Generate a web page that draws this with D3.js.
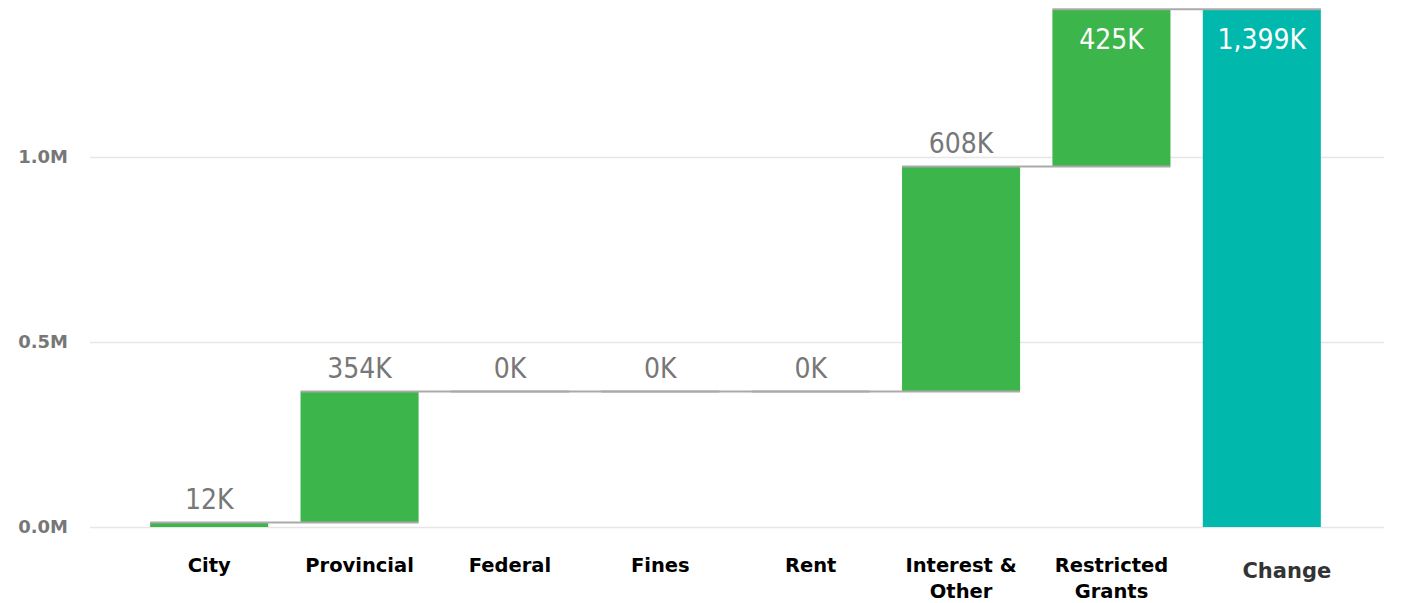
<!DOCTYPE html>
<html>
<head>
<meta charset="utf-8">
<script src="https://cdn.jsdelivr.net/npm/d3@7"></script>
<style>
  body { margin: 0; background: #fff; }
  .grid line { stroke: #e6e6e6; stroke-width: 1.5; }
  .grid text { font-family: "DejaVu Sans", sans-serif; font-weight: bold; font-size: 18px; fill: #777; }
  .val { font-family: "DejaVu Sans Condensed", "DejaVu Sans", sans-serif; font-stretch: condensed; font-size: 28px; }
  .cat { font-family: "DejaVu Sans", sans-serif; font-weight: bold; font-size: 19.5px; fill: #000; }
</style>
</head>
<body>
<div id="chart"></div>
<script>
// waterfall data (thousands)
var categories = ["City", "Provincial", "Federal", "Fines", "Rent", "Interest & Other", "Restricted Grants"];
var increments = [12, 354, 0, 0, 0, 608, 425];
var totalLabel = "Change";
var yTicks = [0, 500, 1000];

var width = 1401, height = 603;

var svg = d3.select("#chart").append("svg")
    .attr("width", width)
    .attr("height", height);

// build running totals
var rows = [];
var cum = 0;
categories.forEach(function(c, i) {
    rows.push({name: c, start: cum, end: cum + increments[i], value: increments[i], total: false});
    cum += increments[i];
});
rows.push({name: totalLabel, start: 0, end: cum, value: cum, total: true});

var x = d3.scaleBand()
    .domain(rows.map(function(d) { return d.name; }))
    .range([134, 1337])
    .paddingInner(0.215)
    .paddingOuter(0.1075);

var y = d3.scaleLinear()
    .domain([0, 1400])
    .range([527, 9]);

// gridlines + y labels
var grid = svg.append("g")
    .attr("class", "grid")
    .attr("transform", "translate(90,0)")
    .call(d3.axisLeft(y)
        .tickValues(yTicks)
        .tickSize(-1294)
        .tickPadding(22)
        .tickFormat(function(d) { return d3.format(".1f")(d / 1000) + "M"; }));
grid.select(".domain").remove();

var fmt = d3.format(",");

// bars
svg.selectAll(".bar")
    .data(rows)
    .enter().append("rect")
    .attr("class", "bar")
    .attr("x", function(d) { return x(d.name); })
    .attr("y", function(d) { return y(Math.max(d.start, d.end)); })
    .attr("width", x.bandwidth())
    .attr("height", function(d) { return Math.abs(y(d.start) - y(d.end)); })
    .attr("fill", function(d) { return d.total ? "#00b8ac" : "#3cb54a"; });

// connector lines
svg.selectAll(".conn")
    .data(rows.slice(0, -1))
    .enter().append("line")
    .attr("class", "conn")
    .attr("x1", function(d) { return x(d.name); })
    .attr("x2", function(d, i) { return x(rows[i + 1].name) + x.bandwidth(); })
    .attr("y1", function(d) { return y(d.end); })
    .attr("y2", function(d) { return y(d.end); })
    .attr("stroke", "#aaa")
    .attr("stroke-width", 2);

// value labels: above the bar, or inside if no room at the top
svg.selectAll(".val")
    .data(rows)
    .enter().append("text")
    .attr("class", "val")
    .attr("text-anchor", "middle")
    .attr("x", function(d) { return x(d.name) + x.bandwidth() / 2; })
    .attr("y", function(d) {
        var top = y(Math.max(d.start, d.end));
        return top < 40 ? top + 40 : top - 14;
    })
    .attr("fill", function(d) { return y(Math.max(d.start, d.end)) < 40 ? "#fff" : "#777"; })
    .text(function(d) { return fmt(d.value) + "K"; });

// category labels
var cats = svg.selectAll(".cat")
    .data(rows)
    .enter().append("text")
    .attr("class", "cat")
    .attr("text-anchor", "middle")
    .attr("x", function(d) { return x(d.name) + x.bandwidth() / 2 + (d.total ? 25 : 0); })
    .attr("y", function(d) { return d.total ? 578 : 572; })
    .style("font-size", function(d) { return d.total ? "21px" : null; })
    .style("fill", function(d) { return d.total ? "#333" : null; })
    .text(function(d) { return d.name; });

// wrap long labels onto two lines
cats.each(function(d) {
    var t = d3.select(this);
    if (this.getComputedTextLength() <= x.bandwidth()) return;
    var words = d.name.split(" ");
    var last = words.pop();
    var cx = t.attr("x");
    t.text(null);
    t.append("tspan").attr("x", cx).text(words.join(" "));
    t.append("tspan").attr("x", cx).attr("dy", 26).text(last);
});
</script>
</body>
</html>
